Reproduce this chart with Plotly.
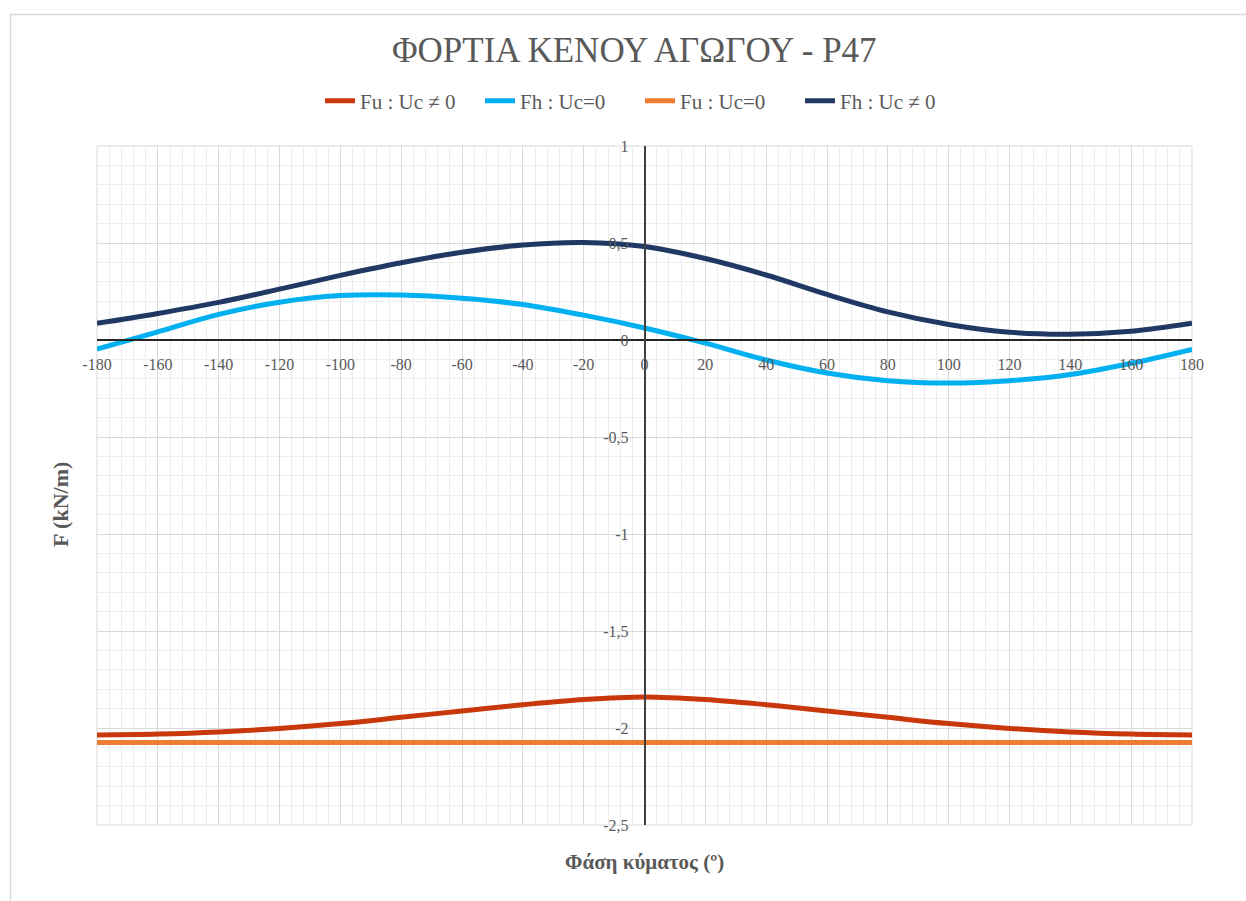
import plotly.graph_objects as go

# Wave phase (degrees)
phase = [-180, -160, -140, -120, -100, -80, -60, -40, -20, 0,
         20, 40, 60, 80, 100, 120, 140, 160, 180]

# Loads on the empty pipe (kN/m)
fu_uc_nonzero = [-2.036, -2.031, -2.02, -2.002, -1.977, -1.945, -1.912, -1.88, -1.853, -1.84,
                 -1.853, -1.88, -1.912, -1.945, -1.977, -2.002, -2.02, -2.031, -2.036]
fh_uc_zero = [-0.047, 0.042, 0.132, 0.195, 0.229, 0.232, 0.215, 0.183, 0.128, 0.062,
              -0.016, -0.103, -0.17, -0.21, -0.222, -0.21, -0.178, -0.12, -0.048]
fu_uc_zero = [-2.075] * len(phase)
fh_uc_nonzero = [0.086, 0.137, 0.194, 0.262, 0.333, 0.398, 0.452, 0.49, 0.503, 0.482,
                 0.42, 0.335, 0.235, 0.145, 0.08, 0.04, 0.03, 0.045, 0.086]

series = [
    ("Fu : Uc \u2260 0", fu_uc_nonzero, "#C9380A"),
    ("Fh : Uc=0", fh_uc_zero, "#00B0F0"),
    ("Fu : Uc=0", fu_uc_zero, "#ED7D31"),
    ("Fh : Uc \u2260 0", fh_uc_nonzero, "#1F3864"),
]

x_ticks = list(range(-180, 181, 20))
x_labels = [str(v) for v in x_ticks]
y_ticks = [1, 0.5, 0, -0.5, -1, -1.5, -2, -2.5]
y_labels = ["1", "0,5", "0", "-0,5", "-1", "-1,5", "-2", "-2,5"]

FONT = "Liberation Serif, DejaVu Serif, serif"
GREY = "#595959"

fig = go.Figure()
for name, vals, color in series:
    fig.add_trace(go.Scatter(
        x=phase, y=vals, name=name, mode="lines",
        line=dict(color=color, width=5, shape="spline", smoothing=1.0),
        hoverinfo="skip",
    ))

X_MIN, X_MAX = -180, 180
Y_MIN, Y_MAX = -2.5, 1

fig.update_layout(
    width=1246, height=901,
    margin=dict(l=97, r=54, t=146, b=76),
    paper_bgcolor="white", plot_bgcolor="white",
    font=dict(family=FONT, color=GREY),
    legend=dict(orientation="h", x=(320 - 97) / 1095, xanchor="left",
                y=1.066, yanchor="middle",
                font=dict(family=FONT, size=21, color=GREY),
                itemwidth=30, entrywidth=115, tracegroupgap=0,
                bgcolor="rgba(0,0,0,0)"),
    showlegend=True,
    xaxis=dict(
        range=[X_MIN, X_MAX], tickvals=x_ticks, ticktext=x_labels, domain=[0, 1],
        anchor="free", position=(0 - Y_MIN) / (Y_MAX - Y_MIN),
        showgrid=True, gridcolor="#D9D9D9", gridwidth=1,
        minor=dict(dtick=4, tick0=0, showgrid=True, gridcolor="#EDEDED", gridwidth=1),
        zeroline=False, showline=True, linecolor="#262626", linewidth=1.5,
        ticks="", ticklabelstandoff=10,
        tickfont=dict(family=FONT, size=16, color=GREY),
    ),
    yaxis=dict(
        range=[Y_MIN, Y_MAX], tickvals=y_ticks, ticktext=y_labels, domain=[0, 1],
        anchor="free", position=(0 - X_MIN) / (X_MAX - X_MIN),
        showgrid=True, gridcolor="#D9D9D9", gridwidth=1,
        minor=dict(dtick=0.1, tick0=0, showgrid=True, gridcolor="#EDEDED", gridwidth=1),
        zeroline=False, showline=True, linecolor="#404040", linewidth=1.5,
        ticks="", ticklabelstandoff=12,
        tickfont=dict(family=FONT, size=16, color=GREY),
    ),
    annotations=[
        # chart title
        dict(text="ΦΟΡΤΙΑ ΚΕΝΟΥ ΑΓΩΓΟΥ - P47", xref="paper", yref="paper",
             x=(634 - 97) / 1095, y=(825 - 50) / 679, xanchor="center", yanchor="middle",
             showarrow=False, font=dict(family=FONT, size=35, color=GREY)),
        dict(text="<b>Φάση κύματος (º)</b>", xref="paper", yref="paper",
             x=0.5, y=-(862 - 825) / 679, xanchor="center", yanchor="middle",
             showarrow=False, font=dict(family=FONT, size=21, color=GREY)),
        dict(text="<b>F (kN/m)</b>", xref="paper", yref="paper",
             x=-(97 - 60) / 1095, y=(825 - 505) / 679, xanchor="center", yanchor="middle",
             textangle=-90, showarrow=False, font=dict(family=FONT, size=22, color=GREY)),
    ],
    shapes=[
        # plot area frame
        dict(type="rect", xref="paper", yref="paper", x0=0, y0=0, x1=1, y1=1,
             line=dict(color="#D9D9D9", width=1), layer="below"),
        # chart area frame (top and left edges)
        dict(type="line", xref="paper", yref="paper",
             x0=(10 - 97) / 1095, x1=(1246 - 97) / 1095,
             y0=(825 - 14.5) / 679, y1=(825 - 14.5) / 679,
             line=dict(color="#D9D9D9", width=1.5)),
        dict(type="line", xref="paper", yref="paper",
             x0=(10.5 - 97) / 1095, x1=(10.5 - 97) / 1095,
             y0=(825 - 14) / 679, y1=(825 - 901) / 679,
             line=dict(color="#D9D9D9", width=1.5)),
    ],
)

fig.write_html("out.html")
